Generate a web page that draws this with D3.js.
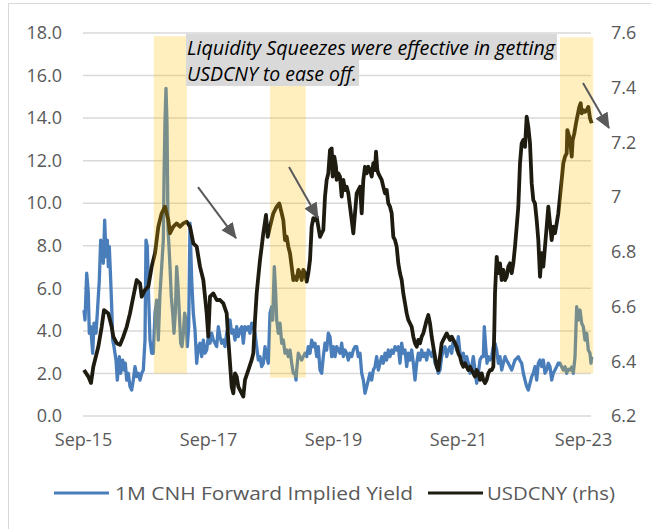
<!DOCTYPE html>
<html><head><meta charset="utf-8">
<script src="https://cdn.jsdelivr.net/npm/d3@7"></script>
<style>body{margin:0;background:#fff;} svg{display:block;font-family:"Open Sans",sans-serif;}</style>
</head><body><svg id="c" width="651" height="529"></svg>
<script>
// ---- data (decimal year, value) ----
const usdcny = [[2015.683,6.368],[2015.752,6.344],[2015.795,6.321],[2015.832,6.380],[2015.912,6.453],[2015.966,6.526],[2016.003,6.587],[2016.072,6.575],[2016.126,6.526],[2016.152,6.490],[2016.206,6.466],[2016.259,6.460],[2016.312,6.490],[2016.366,6.526],[2016.419,6.575],[2016.472,6.636],[2016.526,6.697],[2016.579,6.685],[2016.606,6.636],[2016.659,6.661],[2016.712,6.673],[2016.766,6.746],[2016.819,6.795],[2016.872,6.892],[2016.926,6.941],[2016.979,6.965],[2017.032,6.916],[2017.059,6.868],[2017.112,6.892],[2017.166,6.904],[2017.219,6.892],[2017.272,6.904],[2017.326,6.910],[2017.379,6.892],[2017.432,6.831],[2017.486,6.819],[2017.539,6.746],[2017.592,6.697],[2017.646,6.575],[2017.672,6.490],[2017.699,6.636],[2017.752,6.648],[2017.806,6.624],[2017.859,6.624],[2017.912,6.612],[2017.966,6.575],[2017.992,6.478],[2018.019,6.393],[2018.046,6.307],[2018.072,6.283],[2018.099,6.356],[2018.126,6.344],[2018.152,6.307],[2018.179,6.295],[2018.206,6.283],[2018.232,6.271],[2018.259,6.332],[2018.312,6.368],[2018.366,6.405],[2018.392,6.429],[2018.419,6.551],[2018.446,6.648],[2018.472,6.709],[2018.499,6.770],[2018.526,6.819],[2018.552,6.868],[2018.595,6.935],[2018.622,6.855],[2018.659,6.892],[2018.712,6.941],[2018.766,6.965],[2018.808,6.977],[2018.846,6.941],[2018.872,6.916],[2018.899,6.843],[2018.926,6.855],[2018.952,6.819],[2018.979,6.795],[2019.006,6.746],[2019.032,6.697],[2019.059,6.709],[2019.086,6.697],[2019.112,6.734],[2019.139,6.722],[2019.166,6.697],[2019.192,6.734],[2019.219,6.722],[2019.246,6.691],[2019.272,6.722],[2019.299,6.770],[2019.326,6.892],[2019.352,6.923],[2019.379,6.916],[2019.406,6.928],[2019.432,6.892],[2019.459,6.855],[2019.486,6.868],[2019.512,6.880],[2019.539,7.002],[2019.566,7.063],[2019.592,7.087],[2019.619,7.172],[2019.646,7.178],[2019.662,7.075],[2019.688,7.148],[2019.715,7.111],[2019.726,7.063],[2019.752,7.087],[2019.779,7.075],[2019.806,7.002],[2019.832,7.063],[2019.859,7.026],[2019.886,7.038],[2019.912,7.014],[2019.939,6.965],[2019.966,6.916],[2019.992,6.868],[2020.019,6.941],[2020.046,7.014],[2020.072,7.026],[2020.099,7.038],[2020.126,6.941],[2020.152,7.063],[2020.179,7.111],[2020.206,7.087],[2020.232,7.111],[2020.259,7.099],[2020.286,7.075],[2020.312,7.124],[2020.339,7.099],[2020.355,7.166],[2020.376,7.099],[2020.392,7.087],[2020.419,7.075],[2020.446,7.063],[2020.472,7.038],[2020.499,7.014],[2020.526,7.026],[2020.552,6.977],[2020.579,6.965],[2020.606,6.941],[2020.632,6.855],[2020.659,6.843],[2020.686,6.819],[2020.712,6.758],[2020.739,6.722],[2020.766,6.697],[2020.792,6.648],[2020.819,6.612],[2020.846,6.575],[2020.872,6.551],[2020.899,6.539],[2020.926,6.526],[2020.952,6.490],[2020.979,6.466],[2021.006,6.453],[2021.032,6.478],[2021.059,6.466],[2021.086,6.490],[2021.112,6.502],[2021.139,6.526],[2021.166,6.551],[2021.192,6.569],[2021.219,6.539],[2021.246,6.490],[2021.272,6.453],[2021.299,6.417],[2021.326,6.380],[2021.352,6.368],[2021.379,6.417],[2021.406,6.466],[2021.432,6.478],[2021.459,6.490],[2021.486,6.502],[2021.512,6.490],[2021.539,6.478],[2021.566,6.490],[2021.592,6.478],[2021.619,6.466],[2021.646,6.453],[2021.672,6.429],[2021.699,6.417],[2021.726,6.393],[2021.752,6.380],[2021.779,6.393],[2021.806,6.380],[2021.832,6.368],[2021.859,6.380],[2021.886,6.368],[2021.912,6.356],[2021.939,6.344],[2021.966,6.368],[2021.992,6.356],[2022.019,6.332],[2022.046,6.356],[2022.072,6.332],[2022.099,6.320],[2022.126,6.332],[2022.152,6.356],[2022.179,6.368],[2022.206,6.368],[2022.232,6.380],[2022.248,6.514],[2022.259,6.648],[2022.286,6.782],[2022.312,6.722],[2022.339,6.758],[2022.366,6.697],[2022.392,6.734],[2022.419,6.697],[2022.446,6.709],[2022.472,6.746],[2022.499,6.758],[2022.526,6.722],[2022.552,6.758],[2022.579,6.819],[2022.606,6.892],[2022.632,6.965],[2022.659,7.124],[2022.686,7.197],[2022.712,7.209],[2022.739,7.184],[2022.766,7.294],[2022.792,7.257],[2022.819,7.197],[2022.846,7.051],[2022.872,6.989],[2022.899,6.977],[2022.926,6.916],[2022.952,6.843],[2022.979,6.709],[2023.006,6.795],[2023.032,6.746],[2023.059,6.819],[2023.086,6.892],[2023.112,6.965],[2023.139,6.904],[2023.166,6.843],[2023.192,6.892],[2023.219,6.868],[2023.246,6.904],[2023.272,6.941],[2023.299,7.002],[2023.326,7.063],[2023.352,7.124],[2023.379,7.148],[2023.406,7.160],[2023.416,7.245],[2023.448,7.221],[2023.470,7.184],[2023.486,7.148],[2023.502,7.209],[2023.528,7.233],[2023.555,7.270],[2023.576,7.294],[2023.608,7.330],[2023.630,7.343],[2023.646,7.306],[2023.672,7.318],[2023.699,7.312],[2023.726,7.318],[2023.752,7.330],[2023.779,7.289],[2023.806,7.270]];

const cnhYield = [[2015.683,4.98],[2015.699,4.51],[2015.726,6.71],[2015.752,5.77],[2015.768,3.89],[2015.790,4.20],[2015.822,2.95],[2015.843,4.36],[2015.875,3.89],[2015.896,4.83],[2015.912,5.61],[2015.928,6.39],[2015.950,8.27],[2015.971,7.96],[2015.992,7.18],[2016.014,9.21],[2016.035,7.49],[2016.056,8.27],[2016.072,7.02],[2016.088,7.96],[2016.110,6.39],[2016.126,5.14],[2016.142,3.57],[2016.163,3.26],[2016.195,2.63],[2016.216,1.69],[2016.248,2.79],[2016.270,2.01],[2016.302,2.63],[2016.323,2.16],[2016.344,2.48],[2016.366,1.69],[2016.392,2.01],[2016.419,1.38],[2016.446,1.22],[2016.472,1.69],[2016.499,2.32],[2016.526,1.85],[2016.552,2.01],[2016.579,1.69],[2016.606,2.01],[2016.632,2.16],[2016.659,3.57],[2016.675,8.27],[2016.696,7.96],[2016.712,6.08],[2016.739,3.57],[2016.766,2.95],[2016.792,2.95],[2016.819,4.83],[2016.846,5.45],[2016.872,3.57],[2016.899,5.77],[2016.926,7.02],[2016.952,8.27],[2016.963,11.09],[2016.979,13.91],[2016.995,15.40],[2017.011,13.75],[2017.027,8.74],[2017.043,7.96],[2017.059,7.02],[2017.080,5.61],[2017.102,4.83],[2017.123,3.89],[2017.144,4.83],[2017.166,7.02],[2017.187,6.08],[2017.208,4.83],[2017.230,3.42],[2017.251,3.26],[2017.272,3.89],[2017.294,4.83],[2017.315,4.51],[2017.336,3.26],[2017.358,4.20],[2017.379,9.06],[2017.406,6.39],[2017.432,4.83],[2017.459,4.04],[2017.486,2.48],[2017.512,3.26],[2017.539,3.42],[2017.566,2.79],[2017.592,3.57],[2017.619,2.95],[2017.646,3.10],[2017.672,3.73],[2017.699,3.42],[2017.726,3.89],[2017.752,3.57],[2017.779,3.42],[2017.806,3.26],[2017.832,4.20],[2017.859,3.73],[2017.886,3.42],[2017.912,3.57],[2017.939,3.26],[2017.966,3.89],[2017.992,4.20],[2018.019,4.51],[2018.046,3.89],[2018.072,4.04],[2018.099,3.57],[2018.126,4.20],[2018.152,3.73],[2018.179,4.04],[2018.206,4.20],[2018.232,3.42],[2018.259,4.20],[2018.286,4.04],[2018.312,4.20],[2018.339,3.89],[2018.366,4.36],[2018.392,4.20],[2018.419,3.89],[2018.446,3.26],[2018.472,2.63],[2018.499,2.79],[2018.526,2.32],[2018.552,2.48],[2018.579,3.26],[2018.606,2.79],[2018.632,2.48],[2018.659,4.83],[2018.686,5.14],[2018.702,4.51],[2018.728,7.02],[2018.750,5.77],[2018.766,4.51],[2018.792,3.89],[2018.819,4.36],[2018.846,3.42],[2018.872,3.57],[2018.899,2.95],[2018.926,3.10],[2018.952,2.79],[2018.979,3.10],[2019.006,2.48],[2019.032,2.01],[2019.059,2.01],[2019.075,1.69],[2019.086,2.16],[2019.112,2.95],[2019.139,2.79],[2019.166,2.63],[2019.192,2.79],[2019.219,2.95],[2019.246,2.79],[2019.272,3.26],[2019.299,2.95],[2019.326,3.57],[2019.352,3.26],[2019.379,3.42],[2019.406,2.79],[2019.432,3.26],[2019.459,2.16],[2019.486,2.01],[2019.512,2.79],[2019.539,3.42],[2019.566,3.10],[2019.592,3.89],[2019.619,3.73],[2019.646,2.79],[2019.672,3.26],[2019.699,2.79],[2019.726,3.26],[2019.752,3.10],[2019.779,2.95],[2019.806,3.42],[2019.832,2.79],[2019.859,3.10],[2019.886,2.95],[2019.912,2.63],[2019.939,2.95],[2019.966,2.79],[2019.992,3.10],[2020.019,3.26],[2020.046,3.26],[2020.072,2.79],[2020.099,2.95],[2020.126,2.01],[2020.152,1.69],[2020.179,1.07],[2020.206,1.38],[2020.232,1.69],[2020.259,2.01],[2020.286,1.69],[2020.312,2.16],[2020.339,2.32],[2020.366,2.79],[2020.392,2.16],[2020.419,2.48],[2020.446,2.79],[2020.472,2.48],[2020.499,2.95],[2020.526,2.63],[2020.552,3.10],[2020.579,2.79],[2020.606,3.10],[2020.632,2.95],[2020.659,3.26],[2020.686,3.10],[2020.712,3.26],[2020.739,2.48],[2020.766,3.42],[2020.792,2.95],[2020.819,3.10],[2020.846,2.32],[2020.872,2.95],[2020.899,2.63],[2020.926,3.10],[2020.952,2.48],[2020.979,1.69],[2021.006,2.48],[2021.032,2.95],[2021.059,2.63],[2021.086,3.10],[2021.112,2.79],[2021.139,2.95],[2021.166,2.63],[2021.192,3.10],[2021.219,2.95],[2021.246,2.79],[2021.272,3.10],[2021.299,2.48],[2021.326,2.32],[2021.352,2.01],[2021.379,2.16],[2021.406,2.79],[2021.432,3.10],[2021.459,3.26],[2021.486,2.79],[2021.512,3.10],[2021.539,3.26],[2021.566,2.95],[2021.592,3.57],[2021.619,3.42],[2021.646,3.10],[2021.672,3.73],[2021.699,2.95],[2021.726,2.79],[2021.752,2.95],[2021.779,2.48],[2021.806,2.79],[2021.832,2.48],[2021.859,2.01],[2021.886,2.32],[2021.912,2.79],[2021.939,2.16],[2021.966,1.54],[2021.992,2.01],[2022.019,2.63],[2022.046,2.79],[2022.072,2.79],[2022.088,4.20],[2022.110,3.26],[2022.131,2.48],[2022.152,2.79],[2022.179,2.63],[2022.206,2.79],[2022.232,3.26],[2022.259,3.42],[2022.286,3.10],[2022.312,2.48],[2022.339,2.79],[2022.366,2.16],[2022.392,2.48],[2022.419,2.79],[2022.446,2.60],[2022.472,2.48],[2022.499,2.32],[2022.526,2.16],[2022.552,2.40],[2022.579,2.63],[2022.606,2.70],[2022.632,2.79],[2022.659,2.60],[2022.686,2.48],[2022.712,2.01],[2022.739,1.69],[2022.766,1.38],[2022.792,1.22],[2022.819,1.54],[2022.846,1.85],[2022.872,2.01],[2022.899,2.32],[2022.926,1.69],[2022.952,2.48],[2022.979,2.63],[2023.006,2.32],[2023.032,2.63],[2023.059,2.01],[2023.086,2.16],[2023.112,2.48],[2023.139,2.32],[2023.166,1.69],[2023.192,2.01],[2023.219,2.16],[2023.246,2.32],[2023.272,2.48],[2023.299,2.48],[2023.326,2.30],[2023.352,2.16],[2023.379,2.32],[2023.406,2.01],[2023.432,2.20],[2023.459,2.16],[2023.486,2.30],[2023.512,2.01],[2023.539,2.77],[2023.566,5.14],[2023.592,4.51],[2023.619,4.98],[2023.646,4.36],[2023.672,4.20],[2023.699,3.57],[2023.726,3.89],[2023.752,3.10],[2023.779,2.95],[2023.795,2.48],[2023.806,2.79]];

// shaded "liquidity squeeze" periods: [start, end] in decimal years, on the left-axis scale [bottom, top]
const squeezeStart = [2016.80, 2018.66, 2023.30];
const squeezeEnd   = [2017.33, 2019.23, 2023.83];
const squeezeLow   = [2.0, 1.8, 2.0];
const squeezeHigh  = [17.85, 17.85, 17.8];

const xTickValues = [2015.667, 2017.667, 2019.667, 2021.667, 2023.667];
const xTickLabels = ["Sep-15", "Sep-17", "Sep-19", "Sep-21", "Sep-23"];
const leftTicks = [0,2,4,6,8,10,12,14,16,18];
const leftTickLabels = ["0.0","2.0","4.0","6.0","8.0","10.0","12.0","14.0","16.0","18.0"];
const rightTicks = [6.2,6.4,6.6,6.8,7.0,7.2,7.4,7.6];
const rightTickLabels = ["6.2","6.4","6.6","6.8","7","7.2","7.4","7.6"];
const seriesNames = ["1M CNH Forward Implied Yield", "USDCNY (rhs)"];
const noteLines = ["Liquidity Squeezes were effective in getting", "USDCNY to ease off."];
// arrows: [x0, y0(left scale), x1, y1]
const arrows = [[2017.507,10.76,2018.115,8.36],[2018.963,11.70,2019.427,9.30],[2023.667,15.65,2024.083,13.53]];

// ---- layout ----
const svg = d3.select("#c");
const L = 83, R = 593, T = 33, B = 416;
const x = d3.scaleLinear().domain([2015.667, 2023.827]).range([L, R]);
const yL = d3.scaleLinear().domain([0, 18]).range([B, T]);
const yR = d3.scaleLinear().domain([6.2, 7.6]).range([B, T]);
const textColor = "#595959";

// chart border
svg.append("rect").attr("x", 8.5).attr("y", 3.5).attr("width", 700).attr("height", 600)
  .attr("fill", "none").attr("stroke", "#d9d9d9").attr("stroke-width", 1);

// gridlines
svg.append("g").selectAll("line").data(leftTicks).join("line")
  .attr("x1", L).attr("x2", R - 2).attr("y1", d => yL(d)).attr("y2", d => yL(d))
  .attr("stroke", "#d9d9d9").attr("stroke-width", 1.5);

// axes
const axL = svg.append("g").attr("transform", `translate(${L},0)`)
  .call(d3.axisLeft(yL).tickValues(leftTicks).tickFormat((d,i) => leftTickLabels[i]).tickSize(0).tickPadding(21));
const axR = svg.append("g").attr("transform", `translate(${R - 2},0)`)
  .call(d3.axisRight(yR).tickValues(rightTicks).tickFormat((d,i) => rightTickLabels[i]).tickSize(0).tickPadding(20));
const axB = svg.append("g").attr("transform", `translate(0,${B})`)
  .call(d3.axisBottom(x).tickValues(xTickValues).tickFormat((d,i) => xTickLabels[i]).tickSize(0).tickPadding(17));
[axL, axR, axB].forEach(g => {
  g.select(".domain").remove();
  g.selectAll("text").attr("fill", textColor).attr("font-size", 18).attr("font-family", "Open Sans");
});

// lines
const lineL = d3.line().x(d => x(d[0])).y(d => yL(d[1]));
const lineR = d3.line().x(d => x(d[0])).y(d => yR(d[1]));
svg.append("path").datum(cnhYield).attr("d", lineL).attr("fill", "none")
  .attr("stroke", "#4a7ebb").attr("stroke-width", 3.3).attr("stroke-linejoin", "round");
svg.append("path").datum(usdcny).attr("d", lineR).attr("fill", "none")
  .attr("stroke", "#1e1b10").attr("stroke-width", 3.8).attr("stroke-linejoin", "round");

// shaded bands (translucent, over the lines)
svg.append("g").selectAll("rect").data(squeezeStart).join("rect")
  .attr("x", (d,i) => x(squeezeStart[i])).attr("width", (d,i) => x(squeezeEnd[i]) - x(squeezeStart[i]))
  .attr("y", (d,i) => yL(squeezeHigh[i])).attr("height", (d,i) => yL(squeezeLow[i]) - yL(squeezeHigh[i]))
  .attr("fill", "#ffc000").attr("fill-opacity", 0.25);

// annotation text box
const note = svg.append("g");
const noteX = x(2017.315);
const noteW = [371, 173];
noteLines.forEach((t, i) => {
  note.append("rect").attr("x", noteX).attr("y", 34 + i * 26).attr("width", noteW[i]).attr("height", 26)
    .attr("fill", "#d9d9d9");
});
noteLines.forEach((t, i) => {
  note.append("text").attr("x", noteX + 1).attr("y", 55 + i * 25.5).text(t)
    .attr("font-style", "italic").attr("font-size", 20).attr("fill", "#000")
    .attr("textLength", noteW[i] - 3).attr("lengthAdjust", "spacingAndGlyphs");
});

// arrows
const defs = svg.append("defs");
defs.append("marker").attr("id", "ah").attr("markerUnits", "userSpaceOnUse")
  .attr("viewBox", "0 0 16 14").attr("markerWidth", 16).attr("markerHeight", 14)
  .attr("refX", 15).attr("refY", 7).attr("orient", "auto")
  .append("path").attr("d", "M0,0 L16,7 L0,14 Z").attr("fill", "#595959");
svg.append("g").selectAll("line").data(arrows).join("line")
  .attr("x1", d => x(d[0])).attr("y1", d => yL(d[1]))
  .attr("x2", d => x(d[2])).attr("y2", d => yL(d[3]))
  .attr("stroke", "#595959").attr("stroke-width", 2).attr("marker-end", "url(#ah)");

// legend
const legend = svg.append("g");
const legendItems = [
  {name: seriesNames[0], color: "#4a7ebb", x0: 54, tx: 115, w: 298},
  {name: seriesNames[1], color: "#1e1b10", x0: 428, tx: 487, w: 128}
];
legendItems.forEach(it => {
  legend.append("line").attr("x1", it.x0).attr("x2", it.x0 + 55).attr("y1", 493).attr("y2", 493)
    .attr("stroke", it.color).attr("stroke-width", 3);
  legend.append("text").attr("x", it.tx).attr("y", 500).text(it.name)
    .attr("font-size", 19).attr("fill", textColor)
    .attr("textLength", it.w).attr("lengthAdjust", "spacingAndGlyphs");
});
</script></body></html>
